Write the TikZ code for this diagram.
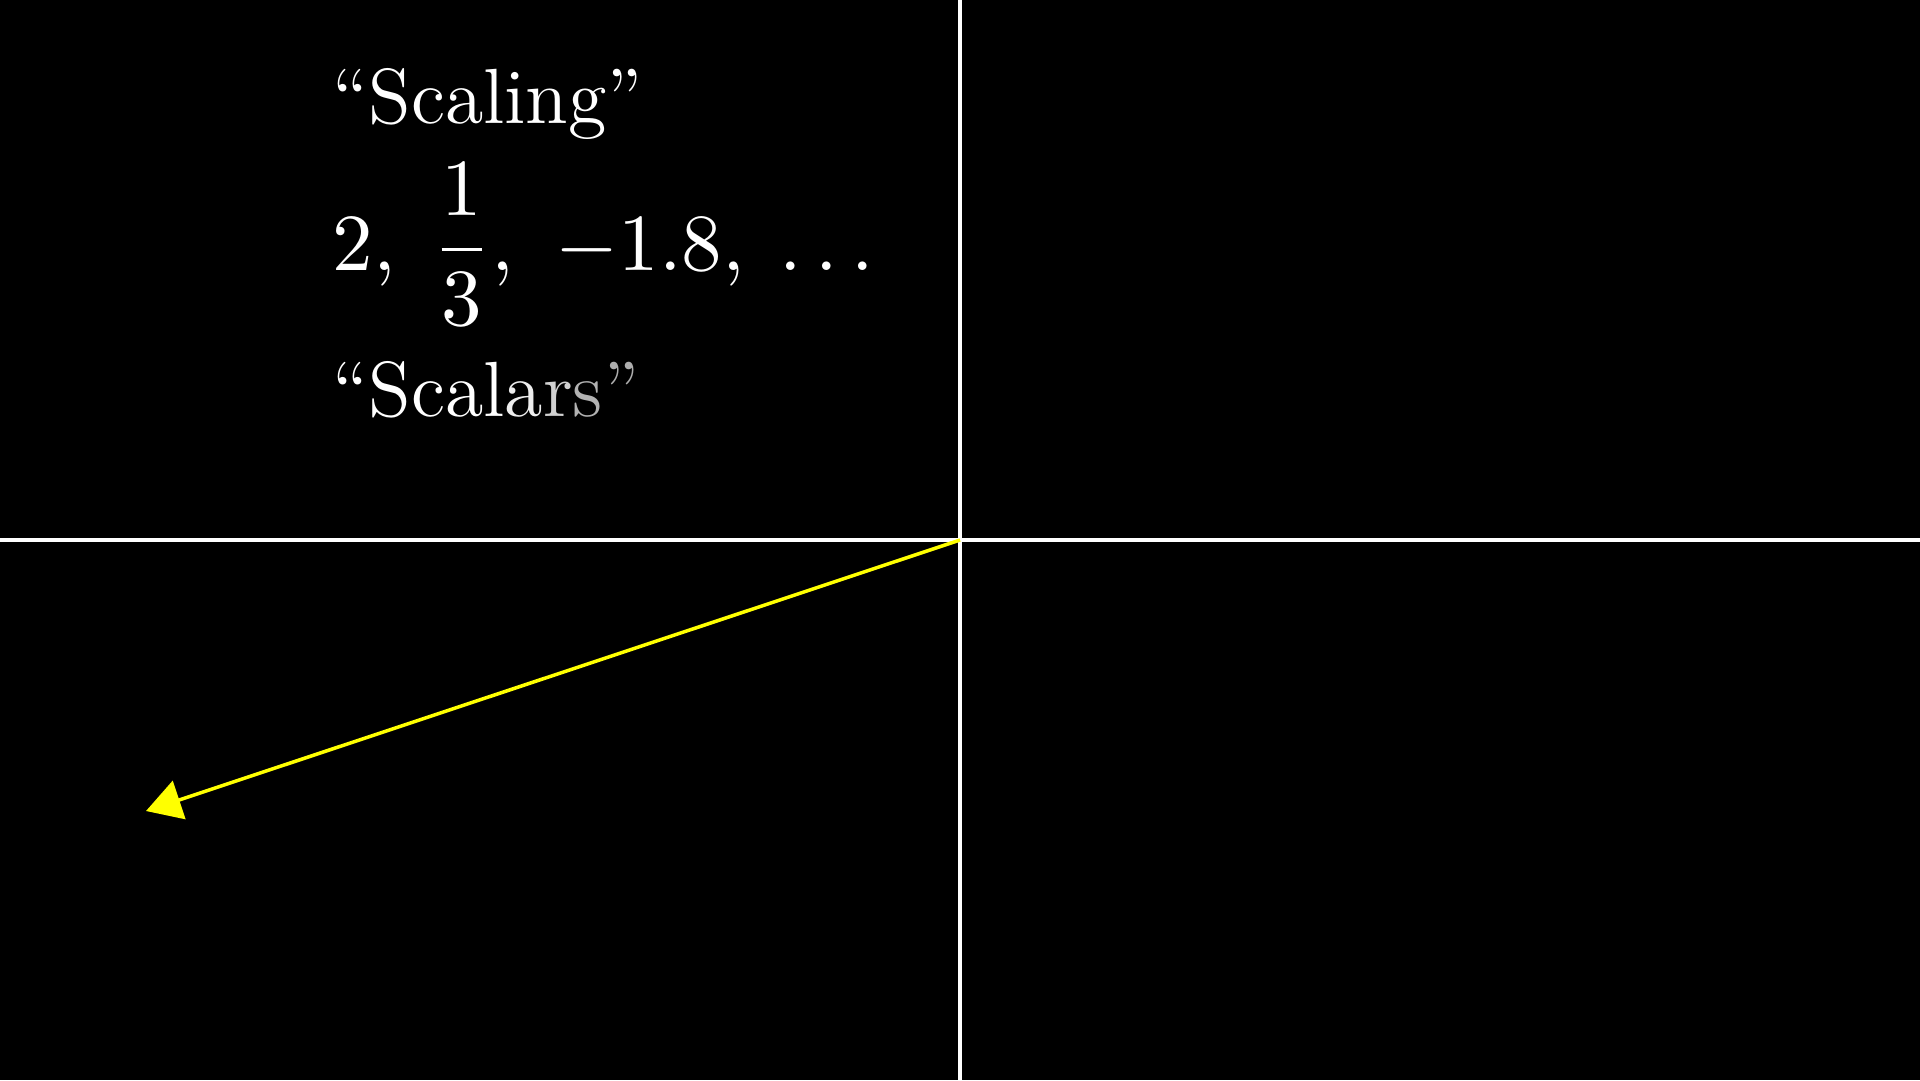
\documentclass[tikz,border=0pt]{standalone}
\usetikzlibrary{arrows.meta}
\definecolor{vecyellow}{RGB}{255,255,0}
\begin{document}
\begin{tikzpicture}[x=1pt,y=-1pt,
  axis/.style={draw=white,line width=3.5pt},
  vec/.style={draw=vecyellow,line width=3.5pt,-{Triangle[length=35pt,width=40pt]}},
  txt/.style={text=white,inner sep=0pt,anchor=base west,scale=6.52,transform shape,font=\fontsize{12}{14}\selectfont}]
\useasboundingbox[fill=black] (0,0) rectangle (1920,1080);
\coordinate (top) at (960,0);
\coordinate (bottom) at (960,1080);
\coordinate (left) at (0,540);
\coordinate (right) at (1920,540);
\coordinate (origin) at (960,540);
\coordinate (tip) at (146,811);
\draw[axis] (left) -- (right);
\draw[axis] (top) -- (bottom);
\draw[vec] (origin) -- (tip);
\node[txt] (scaling) at (331,123) {``Scaling''};
\node[text=white,inner sep=0pt,anchor=base west,scale=8.1,transform shape] (nums) at (331,270)
  {$\displaystyle 2{,}\hspace{4.48pt}{\frac{1}{3}}{,}\hspace{5.1pt}{-}1.8{,}\hspace{4.3pt}{\dots}$};
\node[txt] (scalars) at (331,416) {``Scal\textcolor[gray]{0.93}{a}\textcolor[gray]{0.82}{r}\textcolor[gray]{0.7}{s}\textcolor[gray]{0.68}{''}};
\end{tikzpicture}
\end{document}
